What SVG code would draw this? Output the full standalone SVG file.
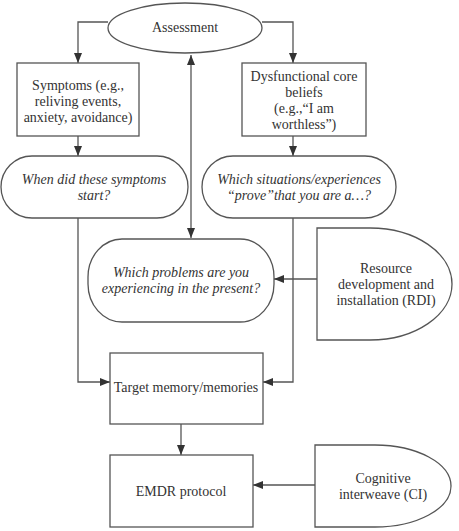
<svg xmlns="http://www.w3.org/2000/svg" width="459" height="531" viewBox="0 0 459 531">
<defs>
<style>
.s{fill:#fff;stroke:#555;stroke-width:1.3}
.c{fill:none;stroke:#555;stroke-width:1.3}
text{font-family:"Liberation Serif","Times New Roman",serif;font-size:14px;fill:#333;text-anchor:middle}
.i{font-style:italic}
</style>
<marker id="a" viewBox="0 0 10 8" refX="10" refY="4" markerWidth="10" markerHeight="8" markerUnits="userSpaceOnUse" orient="auto-start-reverse">
<path d="M0,0 L10,4 L0,8 Z" fill="#333"/>
</marker>
</defs>
<g id="connectors">
<path class="c" d="M108,22 H78 V63" marker-end="url(#a)"/>
<path class="c" d="M262,22 H293 V63" marker-end="url(#a)"/>
<path class="c" d="M191,55 V238" marker-start="url(#a)" marker-end="url(#a)"/>
<path class="c" d="M78,136 V156" marker-end="url(#a)"/>
<path class="c" d="M293,136 V156" marker-end="url(#a)"/>
<path class="c" d="M78,218 V382 H110" marker-end="url(#a)"/>
<path class="c" d="M293,218 V382 H263" marker-end="url(#a)"/>
<path class="c" d="M317,279 H274" marker-end="url(#a)"/>
<path class="c" d="M181,424 V455" marker-end="url(#a)"/>
<path class="c" d="M315,485 H253" marker-end="url(#a)"/>
</g>
<g id="assessment">
<ellipse class="s" cx="185" cy="28" rx="77" ry="25"/>
<text x="185" y="32">Assessment</text>
</g>
<g id="symptoms">
<rect class="s" x="17" y="63" width="122" height="73"/>
<text x="78" y="90">Symptoms (e.g.,</text>
<text x="78" y="106">reliving events,</text>
<text x="78" y="122">anxiety, avoidance)</text>
</g>
<g id="beliefs">
<rect class="s" x="242" y="63" width="124" height="73"/>
<text x="304" y="81">Dysfunctional core</text>
<text x="304" y="97">beliefs</text>
<text x="304" y="113">(e.g.,“I am</text>
<text x="304" y="129">worthless”)</text>
</g>
<g id="when">
<rect class="s" x="1" y="156" width="187" height="62" rx="31" ry="31"/>
<text class="i" x="94" y="184">When did these symptoms</text>
<text class="i" x="94" y="200">start?</text>
</g>
<g id="situations">
<rect class="s" x="202" y="156" width="194" height="62" rx="31" ry="31"/>
<text class="i" x="299" y="184">Which situations/experiences</text>
<text class="i" x="299" y="200">“prove”that you are a…?</text>
</g>
<g id="problems">
<rect class="s" x="88" y="239" width="186" height="83" rx="34" ry="38"/>
<text class="i" x="181" y="277">Which problems are you</text>
<text class="i" x="181" y="293">experiencing in the present?</text>
</g>
<g id="rdi">
<path class="s" d="M317,228 H370 A82,56 0 0 1 370,340 H317 Z"/>
<text x="386" y="273">Resource</text>
<text x="386" y="289">development and</text>
<text x="386" y="305">installation (RDI)</text>
</g>
<g id="target">
<rect class="s" x="110" y="353" width="153" height="71"/>
<text x="186" y="392">Target memory/memories</text>
</g>
<g id="emdr">
<rect class="s" x="110" y="455" width="143" height="72"/>
<text x="181" y="496">EMDR protocol</text>
</g>
<g id="ci">
<path class="s" d="M315,445 H375 A76,41 0 0 1 375,527 H315 Z"/>
<text x="383" y="483">Cognitive</text>
<text x="383" y="499">interweave (CI)</text>
</g>
</svg>
